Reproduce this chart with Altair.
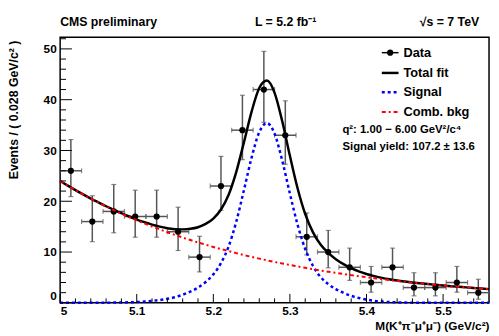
import altair as alt
import pandas as pd

# ---- data ----
bin_centers = [5.014, 5.042, 5.070, 5.098, 5.126, 5.154, 5.182, 5.210, 5.238, 5.266,
               5.294, 5.322, 5.350, 5.378, 5.406, 5.434, 5.462, 5.490, 5.518, 5.546]
counts = [26, 16, 18, 17, 17, 14, 9, 23, 34, 42, 33, 13, 10, 7, 4, 7, 3, 3, 4, 2]
err_lo = [5.08, 3.96, 4.21, 4.08, 4.08, 3.70, 2.91, 4.77, 5.81, 6.46,
          5.72, 3.56, 3.11, 2.58, 1.91, 2.58, 1.63, 1.63, 1.91, 1.29]
err_hi = [6.14, 5.08, 5.30, 5.18, 5.18, 4.83, 4.11, 5.84, 6.87, 7.51,
          6.78, 4.70, 4.26, 3.77, 3.16, 3.77, 2.92, 2.92, 3.16, 2.64]
half_bin = 0.014

curve_x = [round(5.0 + 0.01 * i, 2) for i in range(57)]
signal = [0, 0, 0, 0, 0, 0.02, 0.03, 0.05, 0.07, 0.1,
          0.15, 0.25, 0.38, 0.55, 0.8, 1.1, 1.6, 2.2, 3.0, 4.1,
          5.6, 7.8, 11.1, 16.0, 22.2, 28.6, 33.6, 35.4, 33.3, 28.0,
          21.5, 15.4, 10.6, 7.3, 5.1, 3.7, 2.7, 1.95, 1.38, 0.95,
          0.63, 0.40, 0.25, 0.15, 0.09, 0.05, 0.03, 0.01, 0, 0,
          0, 0, 0, 0, 0, 0, 0]
comb_bkg = [24.00, 23.08, 22.20, 21.35, 20.53, 19.75, 18.99, 18.27, 17.57, 16.90,
            16.25, 15.63, 15.03, 14.46, 13.90, 13.37, 12.86, 12.37, 11.89, 11.44,
            11.00, 10.58, 10.18, 9.79, 9.41, 9.05, 8.71, 8.37, 8.05, 7.75,
            7.45, 7.17, 6.89, 6.63, 6.37, 6.13, 5.90, 5.67, 5.45, 5.24,
            5.04, 4.85, 4.67, 4.49, 4.31, 4.15, 3.99, 3.84, 3.69, 3.55,
            3.41, 3.28, 3.16, 3.04, 2.92, 2.81, 2.70]
total_fit = [24.00, 23.08, 22.20, 21.35, 20.53, 19.77, 19.02, 18.32, 17.64, 17.00,
             16.40, 15.88, 15.41, 15.01, 14.70, 14.47, 14.46, 14.57, 14.89, 15.54,
             16.60, 18.38, 21.28, 25.79, 31.61, 37.65, 42.31, 43.77, 41.35, 35.75,
             28.95, 22.57, 17.49, 13.93, 11.47, 9.83, 8.60, 7.62, 6.83, 6.19,
             5.67, 5.25, 4.92, 4.64, 4.40, 4.20, 4.02, 3.85, 3.69, 3.55,
             3.41, 3.28, 3.16, 3.04, 2.92, 2.81, 2.70]

x_ticks_major = [5.0, 5.1, 5.2, 5.3, 5.4, 5.5]
x_ticks_minor = [5.02, 5.04, 5.06, 5.08, 5.12, 5.14, 5.16, 5.18, 5.22, 5.24, 5.26, 5.28,
                 5.32, 5.34, 5.36, 5.38, 5.42, 5.44, 5.46, 5.48, 5.52, 5.54]
y_ticks_major = [0, 10, 20, 30, 40, 50]
y_ticks_minor = [2, 4, 6, 8, 12, 14, 16, 18, 22, 24, 26, 28, 32, 34, 36, 38, 42, 44, 46, 48, 52]

legend_labels = ["Data", "Total fit", "Signal", "Comb. bkg"]
info_lines = ["q²: 1.00 − 6.00 GeV²/c⁴", "Signal yield: 107.2 ± 13.6"]
header = ["CMS preliminary", "L = 5.2 fb⁻¹", "√s = 7 TeV"]
x_title = "M(K⁺π⁻μ⁺μ⁻) (GeV/c²)"
y_title = "Events / ( 0.028 GeV/c² )"

# ---- tables ----
pts = pd.DataFrame({"xc": bin_centers, "n": counts})
pts["ylo"] = pts["n"] - pd.Series(err_lo)
pts["yhi"] = pts["n"] + pd.Series(err_hi)
pts["xl"] = pts["xc"] - half_bin
pts["xr"] = pts["xc"] + half_bin
curves = pd.DataFrame({"x": curve_x, "sig": signal, "bkg": comb_bkg, "tot": total_fit})

W, H = 436, 270
FONT = "Liberation Sans"
xs = alt.Scale(domain=[5.0, 5.56], nice=False, zero=False)
ys = alt.Scale(domain=[0, 52.3], nice=False, zero=False)

xaxis = alt.Axis(values=x_ticks_major, format=".1~f", ticks=False, tickSize=0, domain=False,
                 grid=False, labelFont=FONT, labelFontSize=12, labelFontWeight="bold",
                 labelColor="black", labelPadding=3, title=x_title, titleFont=FONT,
                 titleFontSize=12, titleFontWeight="bold", titleColor="black",
                 titleAlign="right", titleBaseline="alphabetic", titleX=W, titleY=27)
yaxis = alt.Axis(values=y_ticks_major, format="d", ticks=False, tickSize=0, domain=False,
                 grid=False, labelFont=FONT, labelFontSize=12, labelFontWeight="bold",
                 labelColor="black", labelPadding=4, labelFlush=True, title=y_title,
                 titleFont=FONT, titleFontSize=12.5, titleFontWeight="bold", titleColor="black",
                 titleAngle=270, titleAlign="right", titleBaseline="alphabetic",
                 titleX=-43, titleY=3)


def X(f):
    return alt.X(f, type="quantitative", scale=xs, axis=xaxis)


def Y(f):
    return alt.Y(f, type="quantitative", scale=ys, axis=yaxis)


ERR = "#555555"
base = alt.Chart(pts)
err_v = base.mark_rule(color=ERR, strokeWidth=1.5).encode(x=X("xc"), y=Y("ylo"), y2="yhi")
err_h = base.mark_rule(color=ERR, strokeWidth=1.5).encode(x=X("xl"), x2="xr", y=Y("n"))
cap_lo = base.mark_tick(color=ERR, orient="horizontal", size=5, thickness=1.2).encode(x=X("xc"), y=Y("ylo"))
cap_hi = base.mark_tick(color=ERR, orient="horizontal", size=5, thickness=1.2).encode(x=X("xc"), y=Y("yhi"))
cap_l = base.mark_tick(color=ERR, orient="vertical", size=5, thickness=1.2).encode(x=X("xl"), y=Y("n"))
cap_r = base.mark_tick(color=ERR, orient="vertical", size=5, thickness=1.2).encode(x=X("xr"), y=Y("n"))
dots = base.mark_circle(color="black", size=40, opacity=1).encode(x=X("xc"), y=Y("n"))

cb = alt.Chart(curves)
tot_line = cb.mark_line(color="black", strokeWidth=2.5, interpolate="monotone").encode(x=X("x"), y=Y("tot"))
sig_line = cb.mark_line(color="#0000ff", strokeWidth=2.5, strokeDash=[3, 3],
                        interpolate="monotone").encode(x=X("x"), y=Y("sig"))
bkg_line = cb.mark_line(color="#ff0000", strokeWidth=2, strokeDash=[4, 3, 2, 3],
                        interpolate="monotone").encode(x=X("x"), y=Y("bkg"))

# inward ticks
ytm = alt.Chart(pd.DataFrame({"v": y_ticks_major})).mark_rule(color="black", strokeWidth=1).encode(
    y=Y("v"), x=alt.value(0), x2=alt.value(12))
ytn = alt.Chart(pd.DataFrame({"v": y_ticks_minor})).mark_rule(color="black", strokeWidth=1).encode(
    y=Y("v"), x=alt.value(0), x2=alt.value(6))
xtm = alt.Chart(pd.DataFrame({"v": x_ticks_major})).mark_rule(color="black", strokeWidth=1).encode(
    x=X("v"), y=alt.value(H), y2=alt.value(H - 9))
xtn = alt.Chart(pd.DataFrame({"v": x_ticks_minor})).mark_rule(color="black", strokeWidth=1).encode(
    x=X("v"), y=alt.value(H), y2=alt.value(H - 4.5))

one = pd.DataFrame({"a": [0]})


def txt(s, x, y, size, align="left", baseline="middle"):
    return alt.Chart(pd.DataFrame({"t": [s]})).mark_text(
        font=FONT, fontSize=size, fontWeight="bold", color="black", align=align,
        baseline=baseline).encode(x=alt.value(x), y=alt.value(y), text="t:N")


leg_y = [15.7, 36.3, 56, 76]
lx0, lx1, ltx = 327, 344, 349
leg = [
    alt.Chart(one).mark_rule(color="black", strokeWidth=1.5).encode(
        x=alt.value(lx0), x2=alt.value(lx1), y=alt.value(leg_y[0])),
    alt.Chart(one).mark_circle(color="black", size=40, opacity=1).encode(
        x=alt.value((lx0 + lx1) / 2), y=alt.value(leg_y[0])),
    alt.Chart(one).mark_rule(color="black", strokeWidth=2.5).encode(
        x=alt.value(lx0), x2=alt.value(lx1), y=alt.value(leg_y[1])),
    alt.Chart(one).mark_rule(color="#0000ff", strokeWidth=2.5, strokeDash=[3, 3]).encode(
        x=alt.value(lx0), x2=alt.value(lx1), y=alt.value(leg_y[2])),
    alt.Chart(one).mark_rule(color="#ff0000", strokeWidth=2, strokeDash=[4, 3, 2, 3]).encode(
        x=alt.value(lx0), x2=alt.value(lx1), y=alt.value(leg_y[3])),
]
for lab, yy in zip(legend_labels, leg_y):
    leg.append(txt(lab, ltx, yy, 13))
leg.append(txt(info_lines[0], 287, 94.3, 11.5))
leg.append(txt(info_lines[1], 287, 111.7, 11.5))

head = [
    txt(header[0], 0, -11, 12.5, baseline="alphabetic"),
    txt(header[1], 198, -11, 12.5, baseline="alphabetic"),
    txt(header[2], 426, -11, 12.5, align="right", baseline="alphabetic"),
]

chart = alt.layer(
    err_v, err_h, cap_lo, cap_hi, cap_l, cap_r, dots,
    tot_line, sig_line, bkg_line,
    ytm, ytn, xtm, xtn, *leg, *head
).properties(
    width=W, height=H,
    padding={"left": 53, "top": 27, "right": 2, "bottom": 30},
    autosize=alt.AutoSizeParams(type="none"),
).configure(font=FONT).configure_view(stroke="black", strokeWidth=1.5)

chart.save("out.html", embed_options={"renderer": "svg", "actions": False})
